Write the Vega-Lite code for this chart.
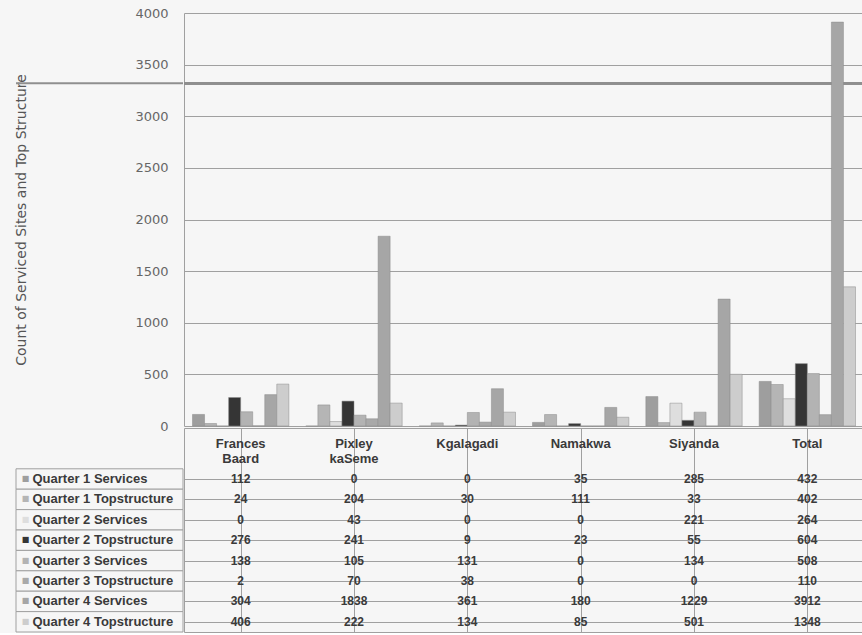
{
  "$schema": "https://vega.github.io/schema/vega-lite/v6.json",
  "background": "#f6f6f6",
  "padding": {"left": 14, "top": 7, "right": 0, "bottom": 0},
  "config": {"view": {"stroke": null}, "font": "Liberation Sans"},
  "datasets": {
    "counts": [
      {"region": "Frances Baard", "series": "Quarter 1 Services", "value": 112},
      {"region": "Pixley kaSeme", "series": "Quarter 1 Services", "value": 0},
      {"region": "Kgalagadi", "series": "Quarter 1 Services", "value": 0},
      {"region": "Namakwa", "series": "Quarter 1 Services", "value": 35},
      {"region": "Siyanda", "series": "Quarter 1 Services", "value": 285},
      {"region": "Total", "series": "Quarter 1 Services", "value": 432},
      {"region": "Frances Baard", "series": "Quarter 1 Topstructure", "value": 24},
      {"region": "Pixley kaSeme", "series": "Quarter 1 Topstructure", "value": 204},
      {"region": "Kgalagadi", "series": "Quarter 1 Topstructure", "value": 30},
      {"region": "Namakwa", "series": "Quarter 1 Topstructure", "value": 111},
      {"region": "Siyanda", "series": "Quarter 1 Topstructure", "value": 33},
      {"region": "Total", "series": "Quarter 1 Topstructure", "value": 402},
      {"region": "Frances Baard", "series": "Quarter 2 Services", "value": 0},
      {"region": "Pixley kaSeme", "series": "Quarter 2 Services", "value": 43},
      {"region": "Kgalagadi", "series": "Quarter 2 Services", "value": 0},
      {"region": "Namakwa", "series": "Quarter 2 Services", "value": 0},
      {"region": "Siyanda", "series": "Quarter 2 Services", "value": 221},
      {"region": "Total", "series": "Quarter 2 Services", "value": 264},
      {"region": "Frances Baard", "series": "Quarter 2 Topstructure", "value": 276},
      {"region": "Pixley kaSeme", "series": "Quarter 2 Topstructure", "value": 241},
      {"region": "Kgalagadi", "series": "Quarter 2 Topstructure", "value": 9},
      {"region": "Namakwa", "series": "Quarter 2 Topstructure", "value": 23},
      {"region": "Siyanda", "series": "Quarter 2 Topstructure", "value": 55},
      {"region": "Total", "series": "Quarter 2 Topstructure", "value": 604},
      {"region": "Frances Baard", "series": "Quarter 3 Services", "value": 138},
      {"region": "Pixley kaSeme", "series": "Quarter 3 Services", "value": 105},
      {"region": "Kgalagadi", "series": "Quarter 3 Services", "value": 131},
      {"region": "Namakwa", "series": "Quarter 3 Services", "value": 0},
      {"region": "Siyanda", "series": "Quarter 3 Services", "value": 134},
      {"region": "Total", "series": "Quarter 3 Services", "value": 508},
      {"region": "Frances Baard", "series": "Quarter 3 Topstructure", "value": 2},
      {"region": "Pixley kaSeme", "series": "Quarter 3 Topstructure", "value": 70},
      {"region": "Kgalagadi", "series": "Quarter 3 Topstructure", "value": 38},
      {"region": "Namakwa", "series": "Quarter 3 Topstructure", "value": 0},
      {"region": "Siyanda", "series": "Quarter 3 Topstructure", "value": 0},
      {"region": "Total", "series": "Quarter 3 Topstructure", "value": 110},
      {"region": "Frances Baard", "series": "Quarter 4 Services", "value": 304},
      {"region": "Pixley kaSeme", "series": "Quarter 4 Services", "value": 1838},
      {"region": "Kgalagadi", "series": "Quarter 4 Services", "value": 361},
      {"region": "Namakwa", "series": "Quarter 4 Services", "value": 180},
      {"region": "Siyanda", "series": "Quarter 4 Services", "value": 1229},
      {"region": "Total", "series": "Quarter 4 Services", "value": 3912},
      {"region": "Frances Baard", "series": "Quarter 4 Topstructure", "value": 406},
      {"region": "Pixley kaSeme", "series": "Quarter 4 Topstructure", "value": 222},
      {"region": "Kgalagadi", "series": "Quarter 4 Topstructure", "value": 134},
      {"region": "Namakwa", "series": "Quarter 4 Topstructure", "value": 85},
      {"region": "Siyanda", "series": "Quarter 4 Topstructure", "value": 501},
      {"region": "Total", "series": "Quarter 4 Topstructure", "value": 1348}
    ]
  },
  "spacing": -2,
  "hconcat": [
    {
      "bounds": "flush",
      "spacing": 2,
      "vconcat": [
        {
          "width": 167,
          "height": 413,
          "data": {"values": [{"scanline": 3320}]},
          "mark": {"type": "rule", "color": "#8f8f8f", "strokeWidth": 2},
          "encoding": {
            "y": {
              "field": "scanline",
              "type": "quantitative",
              "title": "Count of Serviced Sites and Top Structure",
              "scale": {"domain": [0, 4000]},
              "axis": {
                "orient": "left",
                "offset": -167,
                "values": [0, 500, 1000, 1500, 2000, 2500, 3000, 3500, 4000],
                "format": "d",
                "grid": false,
                "ticks": false,
                "domain": false,
                "labelPadding": 15,
                "labelFont": "DejaVu Sans",
                "labelFontSize": 13,
                "labelColor": "#666666",
                "minExtent": 140,
                "maxExtent": 140,
                "titleFont": "DejaVu Sans",
                "titleFontSize": 14,
                "titleFontWeight": "normal",
                "titleColor": "#555555",
                "titlePadding": 15
              }
            }
          }
        },
        {
          "width": 167,
          "height": 204,
          "data": {"name": "counts"},
          "transform": [{"aggregate": [{"op": "count", "as": "n"}], "groupby": ["series"]}],
          "layer": [
            {
              "mark": {"type": "rect", "fill": "#f6f6f6", "stroke": "#a0a0a0", "strokeWidth": 1},
              "encoding": {
                "y": {
                  "field": "series",
                  "type": "nominal",
                  "scale": {
                    "domain": ["h1", "h2", "Quarter 1 Services", "Quarter 1 Topstructure", "Quarter 2 Services", "Quarter 2 Topstructure", "Quarter 3 Services", "Quarter 3 Topstructure", "Quarter 4 Services", "Quarter 4 Topstructure"],
                    "paddingInner": 0,
                    "paddingOuter": 0
                  },
                  "axis": null
                }
              }
            },
            {
              "mark": {"type": "text", "text": "■", "font": "DejaVu Sans", "fontSize": 8, "dx": -74},
              "encoding": {
                "y": {"field": "series", "type": "nominal"},
                "color": {
                  "field": "series",
                  "type": "nominal",
                  "scale": {
                    "domain": ["Quarter 1 Services", "Quarter 1 Topstructure", "Quarter 2 Services", "Quarter 2 Topstructure", "Quarter 3 Services", "Quarter 3 Topstructure", "Quarter 4 Services", "Quarter 4 Topstructure"],
                    "range": ["#9e9e9e", "#b5b5b5", "#dedede", "#353535", "#b3b3b3", "#a9a9a9", "#a6a6a6", "#cdcdcd"]
                  },
                  "legend": null
                }
              }
            },
            {
              "mark": {"type": "text", "align": "left", "dx": -67, "font": "Liberation Sans", "fontWeight": "bold", "fontSize": 13, "color": "#3a3a3a"},
              "encoding": {
                "y": {"field": "series", "type": "nominal"},
                "text": {"field": "series"}
              }
            }
          ]
        }
      ]
    },
    {
      "bounds": "flush",
      "spacing": 2,
      "vconcat": [
        {
          "width": 680,
          "height": 413,
          "data": {"name": "counts"},
          "layer": [
            {
              "mark": {"type": "rule", "color": "#8f8f8f", "strokeWidth": 2},
              "encoding": {"y": {"datum": 3320, "type": "quantitative"}}
            },
            {
              "mark": {"type": "bar", "stroke": "#8a8a8a", "strokeWidth": 0.5},
              "encoding": {
                "x": {
                  "field": "region",
                  "type": "nominal",
                  "scale": {
                    "domain": ["Frances Baard", "Pixley kaSeme", "Kgalagadi", "Namakwa", "Siyanda", "Total"],
                    "paddingInner": 0.15,
                    "paddingOuter": 0.075
                  },
                  "axis": null
                },
                "xOffset": {
                  "field": "series",
                  "type": "nominal",
                  "scale": {
                    "domain": ["Quarter 1 Services", "Quarter 1 Topstructure", "Quarter 2 Services", "Quarter 2 Topstructure", "Quarter 3 Services", "Quarter 3 Topstructure", "Quarter 4 Services", "Quarter 4 Topstructure"],
                    "paddingInner": 0,
                    "paddingOuter": 0
                  }
                },
                "y": {
                  "field": "value",
                  "type": "quantitative",
                  "scale": {"domain": [0, 4000]},
                  "axis": {
                    "values": [0, 500, 1000, 1500, 2000, 2500, 3000, 3500, 4000],
                    "grid": true,
                    "gridColor": "#a0a0a0",
                    "labels": false,
                    "ticks": false,
                    "domain": true,
                    "domainColor": "#a0a0a0",
                    "title": null,
                    "minExtent": 0,
                    "maxExtent": 0
                  }
                },
                "color": {
                  "field": "series",
                  "type": "nominal",
                  "legend": null
                }
              }
            }
          ]
        },
        {
          "width": 680,
          "height": 204,
          "view": {"stroke": "#a0a0a0"},
          "data": {"name": "counts"},
          "layer": [
            {
              "transform": [{"aggregate": [{"op": "count", "as": "n"}], "groupby": ["region"]}],
              "mark": {"type": "text", "baseline": "top", "lineBreak": " ", "lineHeight": 15, "font": "Liberation Sans", "fontWeight": "bold", "fontSize": 13, "color": "#3a3a3a"},
              "encoding": {
                "x": {
                  "field": "region",
                  "type": "nominal",
                  "scale": {
                    "domain": ["Frances Baard", "Pixley kaSeme", "Kgalagadi", "Namakwa", "Siyanda", "Total"],
                    "paddingInner": 0,
                    "paddingOuter": 0
                  },
                  "axis": {"bandPosition": 0, "grid": true, "gridColor": "#a0a0a0", "labels": false, "ticks": false, "domain": false, "title": null}
                },
                "y": {
                  "datum": "h1",
                  "type": "nominal",
                  "scale": {
                    "domain": ["h1", "h2", "Quarter 1 Services", "Quarter 1 Topstructure", "Quarter 2 Services", "Quarter 2 Topstructure", "Quarter 3 Services", "Quarter 3 Topstructure", "Quarter 4 Services", "Quarter 4 Topstructure"],
                    "paddingInner": 0,
                    "paddingOuter": 0
                  },
                  "axis": {
                    "values": ["Quarter 1 Services", "Quarter 1 Topstructure", "Quarter 2 Services", "Quarter 2 Topstructure", "Quarter 3 Services", "Quarter 3 Topstructure", "Quarter 4 Services", "Quarter 4 Topstructure"],
                    "bandPosition": 0,
                    "grid": true,
                    "gridColor": "#a0a0a0",
                    "labels": false,
                    "ticks": false,
                    "domain": false,
                    "title": null
                  }
                },
                "text": {"field": "region"}
              }
            },
            {
              "mark": {"type": "text", "font": "Liberation Sans", "fontWeight": "bold", "fontSize": 12, "color": "#3a3a3a"},
              "encoding": {
                "x": {"field": "region", "type": "nominal"},
                "y": {"field": "series", "type": "nominal"},
                "text": {"field": "value"}
              }
            }
          ]
        }
      ]
    }
  ]
}
